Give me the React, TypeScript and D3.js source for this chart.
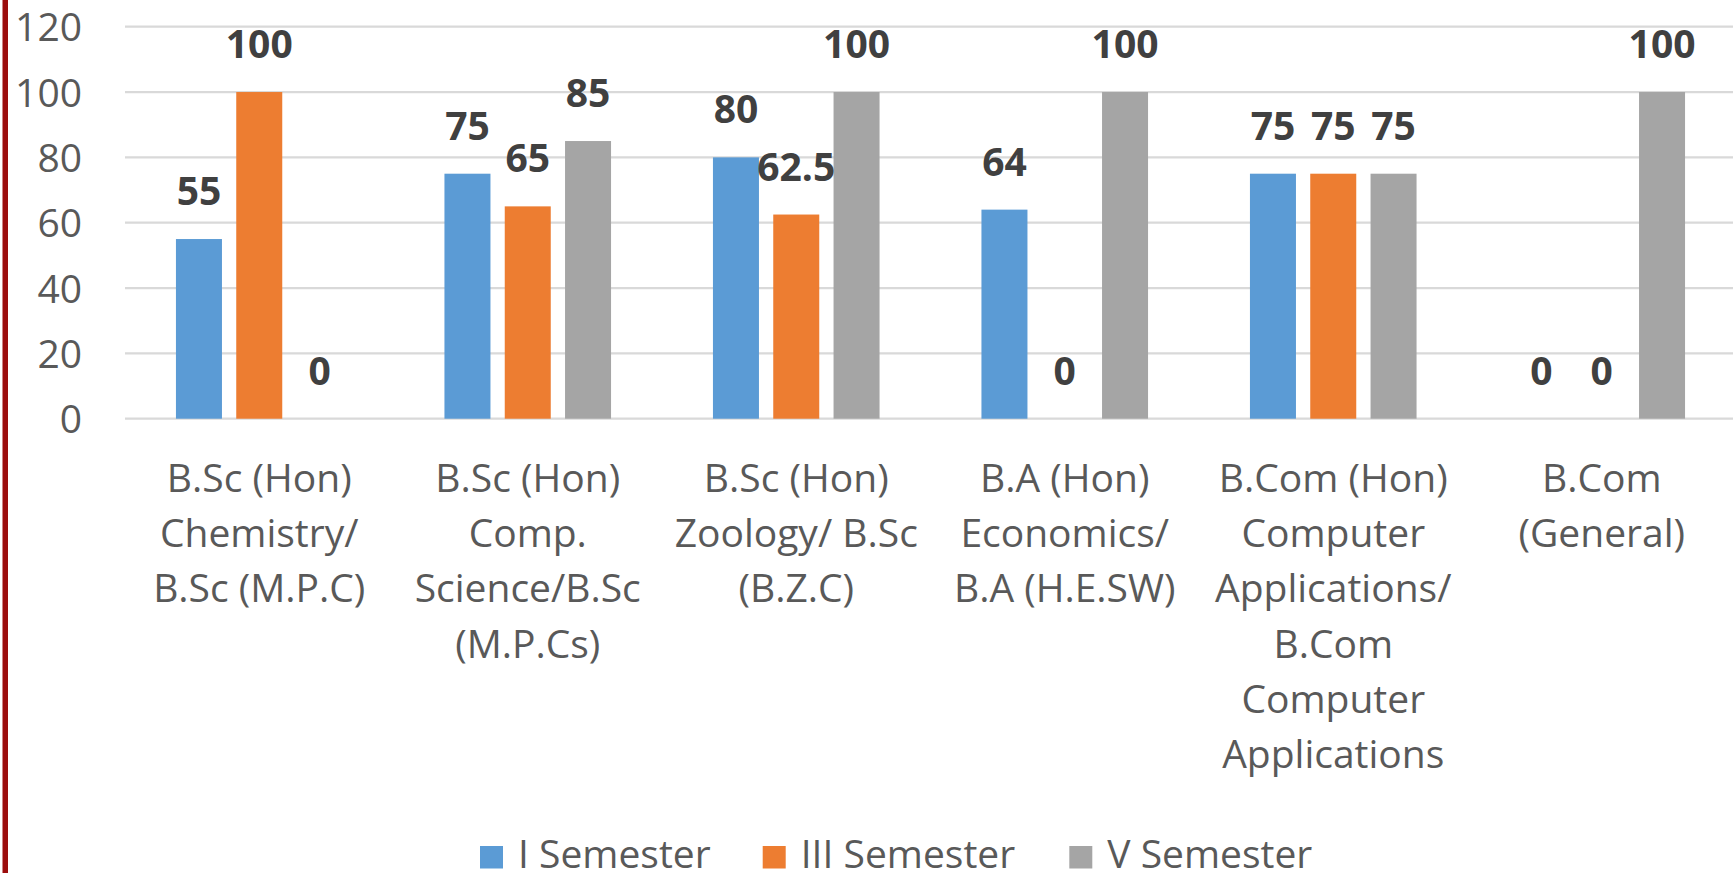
import React from "react";
import * as d3 from "d3";

const categories = ["BScChem", "BScComp", "BScZoo", "BAEco", "BComCA", "BComGen"];
const categoryLines: string[][] = [
  ["B.Sc (Hon)", "Chemistry/", "B.Sc (M.P.C)"],
  ["B.Sc (Hon)", "Comp.", "Science/B.Sc", "(M.P.Cs)"],
  ["B.Sc (Hon)", "Zoology/ B.Sc", "(B.Z.C)"],
  ["B.A (Hon)", "Economics/", "B.A (H.E.SW)"],
  ["B.Com (Hon)", "Computer", "Applications/", "B.Com", "Computer", "Applications"],
  ["B.Com", "(General)"],
];
const seriesNames = ["I Semester", "III Semester", "V Semester"];
const seriesColors = ["#5B9BD5", "#ED7D31", "#A5A5A5"];
const semI = [55, 75, 80, 64, 75, 0];
const semIII = [100, 65, 62.5, 0, 75, 0];
const semV = [0, 85, 100, 100, 75, 100];
const yTicks = [0, 20, 40, 60, 80, 100, 120];

const W = 1733;
const H = 873;
const FONT = "'Open Sans', 'Noto Sans', sans-serif";

export default function App() {
  const seriesValues = [semI, semIII, semV];
  const x0 = d3.scaleBand<string>().domain(categories).range([125, 1736]).padding(0);
  const x1 = d3
    .scaleBand<string>()
    .domain(seriesNames)
    .range([0, x0.bandwidth()])
    .paddingInner(0.237)
    .paddingOuter(0.845);
  const y = d3.scaleLinear().domain([0, 120]).range([418.7, 26.7]);

  const legendX = [480, 762.7, 1069.3];

  return (
    <svg
      width={W}
      height={H}
      style={{ position: "absolute", left: 0, top: 0, background: "#fff" }}
      fontFamily={FONT}
    >
      <rect x={0} y={0} width={W} height={H} fill="#ffffff" />
      {/* left red border */}
      <rect x={2.5} y={0} width={5.5} height={H} fill="#9c0d0d" />

      {/* gridlines */}
      {yTicks.map((t) => (
        <line
          key={"g" + t}
          x1={125}
          x2={W}
          y1={y(t)}
          y2={y(t)}
          stroke="#d9d9d9"
          strokeWidth={2.2}
        />
      ))}

      {/* y tick labels */}
      {yTicks.map((t) => (
        <text
          key={"t" + t}
          x={82}
          y={y(t) + 14.5}
          textAnchor="end"
          fontSize={39}
          fill="#595959"
        >
          {t}
        </text>
      ))}

      {/* bars */}
      {categories.map((c, ci) => (
        <g key={c} transform={`translate(${x0(c)},0)`}>
          {seriesNames.map((s, si) => {
            const v = seriesValues[si][ci];
            return (
              <rect
                key={s}
                x={x1(s)}
                y={y(v)}
                width={x1.bandwidth()}
                height={y(0) - y(v)}
                fill={seriesColors[si]}
              />
            );
          })}
        </g>
      ))}

      {/* data labels */}
      {categories.map((c, ci) => (
        <g key={"l" + c} transform={`translate(${x0(c)},0)`}>
          {seriesNames.map((s, si) => {
            const v = seriesValues[si][ci];
            return (
              <text
                key={s}
                x={(x1(s) as number) + x1.bandwidth() / 2}
                y={y(v) - 34}
                textAnchor="middle"
                fontSize={39}
                fontWeight="bold"
                fill="#404040"
              >
                {v}
              </text>
            );
          })}
        </g>
      ))}

      {/* category labels */}
      {categories.map((c, ci) => (
        <text
          key={"c" + c}
          x={(x0(c) as number) + x0.bandwidth() / 2}
          y={491.7}
          textAnchor="middle"
          fontSize={39}
          fill="#595959"
        >
          {categoryLines[ci].map((ln, li) => (
            <tspan key={li} x={(x0(c) as number) + x0.bandwidth() / 2} dy={li === 0 ? 0 : 55.3}>
              {ln}
            </tspan>
          ))}
        </text>
      ))}

      {/* legend */}
      {seriesNames.map((s, si) => (
        <g key={"lg" + s} transform={`translate(${legendX[si]},0)`}>
          <rect x={0} y={846} width={23} height={22.5} fill={seriesColors[si]} />
          <text x={38} y={868.3} fontSize={39} fill="#595959">
            {s}
          </text>
        </g>
      ))}
    </svg>
  );
}
